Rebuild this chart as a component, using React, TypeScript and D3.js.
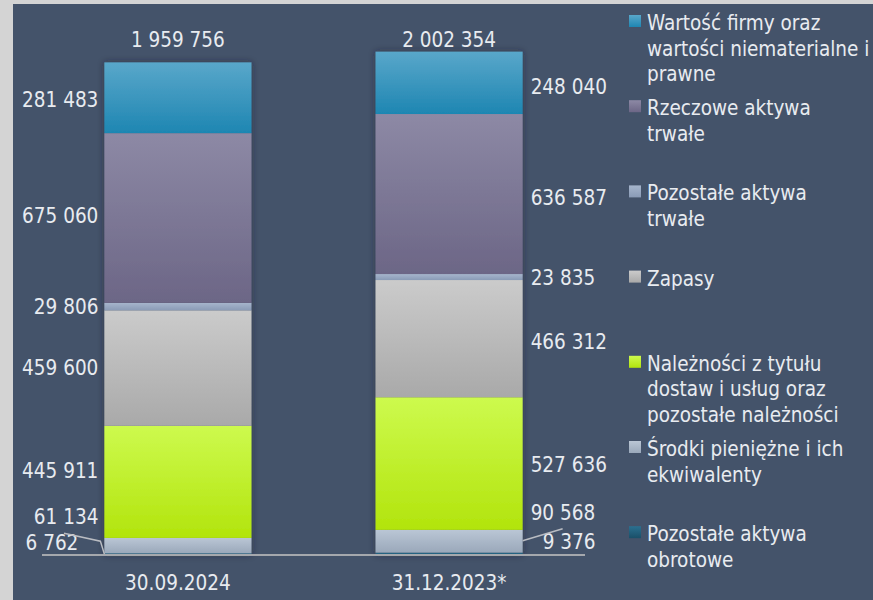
import React, { useEffect, useRef } from 'react';
import * as d3 from 'd3';

// bottom -> top stacking order
const seriesNames = [
  'Pozostałe aktywa obrotowe',
  'Środki pieniężne i ich ekwiwalenty',
  'Należności z tytułu dostaw i usług oraz pozostałe należności',
  'Zapasy',
  'Pozostałe aktywa trwałe',
  'Rzeczowe aktywa trwałe',
  'Wartość firmy oraz wartości niematerialne i prawne',
];
const categories = ['30.09.2024', '31.12.2023*'];
const values2024 = [6762, 61134, 445911, 459600, 29806, 675060, 281483];
const values2023 = [9376, 90568, 527636, 466312, 23835, 636587, 248040];

// legend text, wrapped like in the original, top entry first
const legendLines = [
  ['Wartość firmy oraz', 'wartości niematerialne i', 'prawne'],
  ['Rzeczowe aktywa', 'trwałe'],
  ['Pozostałe aktywa', 'trwałe'],
  ['Zapasy'],
  ['Należności z tytułu', 'dostaw i usług oraz', 'pozostałe należności'],
  ['Środki pieniężne i ich', 'ekwiwalenty'],
  ['Pozostałe aktywa', 'obrotowe'],
];

const gradients: Array<[string, string]> = [
  ['#2b7090', '#1a4f68'],
  ['#bac6d5', '#9aa8ba'],
  ['#cdfa4e', '#b2e40c'],
  ['#cbcbcb', '#a9a9a9'],
  ['#a6b5cc', '#8a9bb6'],
  ['#8d89a5', '#6c6686'],
  ['#59a7ca', '#1e86b2'],
];

const W = 873;
const H = 600;
const FONT = '"DejaVu Sans Condensed", "DejaVu Sans", sans-serif';
const FS = '20.5px';
const TEXT = '#e8ebf0';

const App = () => {
  const ref = useRef<SVGSVGElement | null>(null);

  useEffect(() => {
    const svg = d3.select(ref.current);
    svg.selectAll('*').remove();

    const fmt = d3.formatLocale({ decimal: ',', thousands: ' ', grouping: [3], currency: ['', ''] }).format(',d');
    const table = [values2024, values2023];
    const totals = table.map(v => d3.sum(v));

    const defs = svg.append('defs');
    gradients.forEach((g, i) => {
      const lg = defs.append('linearGradient').attr('id', `grad${i}`)
        .attr('x1', 0).attr('y1', 0).attr('x2', 0).attr('y2', 1);
      lg.append('stop').attr('offset', '0%').attr('stop-color', g[0]);
      lg.append('stop').attr('offset', '100%').attr('stop-color', g[1]);
    });
    const shadow = defs.append('filter').attr('id', 'shadow')
      .attr('x', '-20%').attr('y', '-10%').attr('width', '140%').attr('height', '120%');
    shadow.append('feDropShadow').attr('dx', 0).attr('dy', 0).attr('stdDeviation', 3.5)
      .attr('flood-color', '#1b2231').attr('flood-opacity', 0.55);

    // frame + plot background
    svg.append('rect').attr('width', W).attr('height', H).attr('fill', '#d4d4d4');
    svg.append('rect').attr('x', 13).attr('y', 4).attr('width', W - 13).attr('height', H - 4).attr('fill', '#44536a');

    const x = d3.scaleBand<string>()
      .domain(categories)
      .range([42, 585])
      .paddingInner(0.4576)
      .paddingOuter(0.23);

    const y = d3.scaleLinear().domain([0, 2200000]).range([555, 2]);

    const stack = d3.stack<number[], number>()
      .keys(d3.range(seriesNames.length))
      .value((d, k) => d[k]);
    const stacked = stack(table);

    const bars = svg.append('g');
    categories.forEach((c, ci) => {
      const g = bars.append('g').attr('filter', 'url(#shadow)');
      stacked.forEach((layer, si) => {
        const [y0, y1] = layer[ci];
        g.append('rect')
          .attr('x', x(c)!)
          .attr('width', x.bandwidth())
          .attr('y', y(y1))
          .attr('height', y(y0) - y(y1))
          .attr('fill', `url(#grad${si})`);
      });
    });

    // baseline
    svg.append('line')
      .attr('x1', 42).attr('x2', 585)
      .attr('y1', y(0)).attr('y2', y(0))
      .attr('stroke', '#a5a8ad').attr('stroke-width', 2);

    // value labels: first bar on the left, second on the right
    // small bottom segments are lifted so they don't collide
    const lift = [
      [-12, -28.5, -11, 0, 0, -2, 2],
      [-12, -28.5, 1, 3, 1, 4, 4],
    ];
    categories.forEach((c, ci) => {
      const left = ci === 0;
      stacked.forEach((layer, si) => {
        const [y0, y1] = layer[ci];
        const cy = (y(y0) + y(y1)) / 2 + lift[ci][si];
        let tx = left ? x(c)! - 6 : x(c)! + x.bandwidth() + 8;
        if (si === 0) tx = left ? x(c)! - 26 : x(c)! + x.bandwidth() + 20;
        svg.append('text')
          .attr('x', tx)
          .attr('y', cy)
          .attr('dy', '0.36em')
          .attr('text-anchor', left ? 'end' : 'start')
          .attr('fill', TEXT)
          .style('font-family', FONT)
          .style('font-size', FS)
          .text(fmt(table[ci][si]));
      });
      // leader line for the thinnest segment
      const [b0, b1] = stacked[0][ci];
      const segY = (y(b0) + y(b1)) / 2;
      const pts: Array<[number, number]> = left
        ? [[64, segY - 21], [x(c)! - 4, segY - 13], [x(c)!, segY]]
        : [[x(c)! + x.bandwidth() + 40, segY - 25], [x(c)! + x.bandwidth(), segY - 13]];
      svg.append('path')
        .attr('d', d3.line()(pts))
        .attr('fill', 'none')
        .attr('stroke', '#b9bcc2')
        .attr('stroke-width', 1.5);

      // totals
      svg.append('text')
        .attr('x', x(c)! + x.bandwidth() / 2)
        .attr('y', y(d3.max(totals)!) - 12)
        .attr('dy', '0.36em')
        .attr('text-anchor', 'middle')
        .attr('fill', TEXT)
        .style('font-family', FONT)
        .style('font-size', FS)
        .text(fmt(totals[ci]));

      // category axis labels
      svg.append('text')
        .attr('x', x(c)! + x.bandwidth() / 2)
        .attr('y', 583)
        .attr('dy', '0.36em')
        .attr('text-anchor', 'middle')
        .attr('fill', TEXT)
        .style('font-family', FONT)
        .style('font-size', FS)
        .text(c);
    });

    // legend, top series first
    const legend = svg.append('g');
    legendLines.forEach((lines, li) => {
      const si = seriesNames.length - 1 - li;
      const base = 30 + li * 85.2;
      legend.append('rect')
        .attr('x', 629).attr('y', base - 15)
        .attr('width', 12).attr('height', 12)
        .attr('fill', `url(#grad${si})`);
      const t = legend.append('text')
        .attr('fill', TEXT)
        .style('font-family', FONT)
        .style('font-size', FS);
      lines.forEach((ln, k) => {
        t.append('tspan').attr('x', 647).attr('y', base + k * 25.5).text(ln);
      });
    });
  }, []);

  return (
    <svg ref={ref} width={W} height={H}
      style={{ position: 'absolute', left: 0, top: 0, display: 'block' }} />
  );
};

export default App;
